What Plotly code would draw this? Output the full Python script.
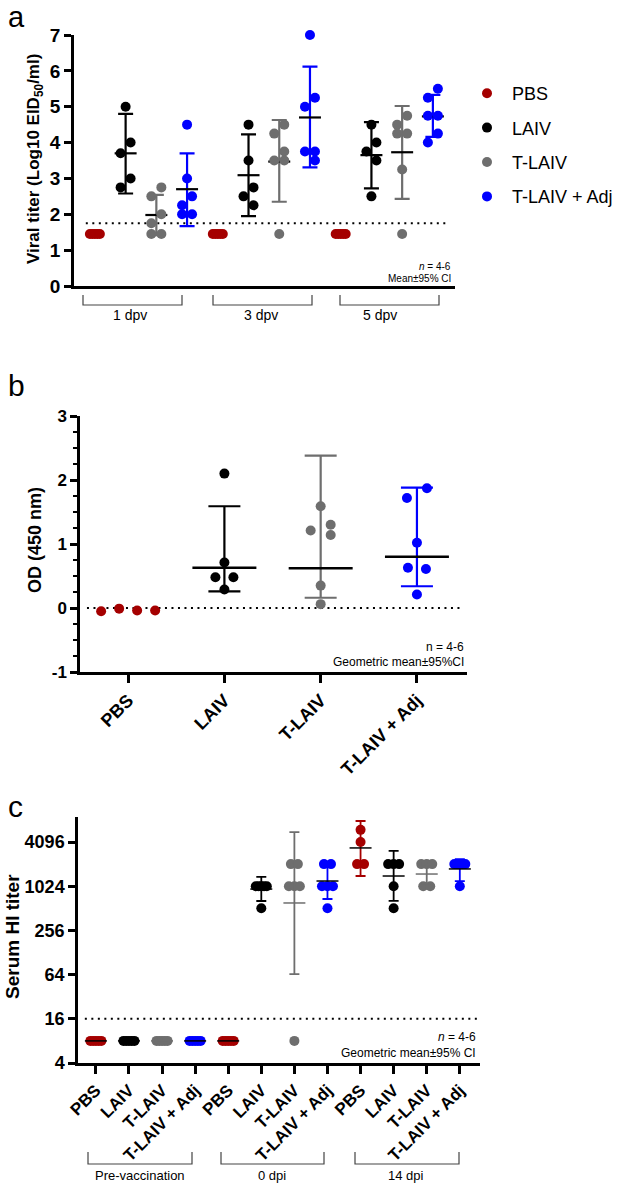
import math
import plotly.graph_objects as go

# ---------------- data ----------------
GROUPS = ["PBS", "LAIV", "T-LAIV", "T-LAIV + Adj"]
COLORS = ["#A50000", "#000000", "#6E6E6E", "#0000FF"]

# panel a: viral titer (Log10 EID50/ml) at 1, 3, 5 dpv
A_TIMES = ["1 dpv", "3 dpv", "5 dpv"]
a_pbs = [[1.45, 1.45, 1.45, 1.45, 1.45], [1.45, 1.45, 1.45, 1.45, 1.45], [1.45, 1.45, 1.45, 1.45, 1.45]]
a_laiv = [[5.0, 4.0, 3.7, 3.0, 2.75], [4.5, 3.5, 2.75, 2.5, 2.25], [4.5, 4.0, 3.75, 3.5, 2.5]]
a_tlaiv = [[2.75, 2.5, 2.0, 1.75, 1.45, 1.45], [4.5, 4.25, 3.75, 3.5, 3.5, 1.45], [4.75, 4.5, 4.25, 4.25, 3.25, 1.45]]
a_adj = [[4.5, 3.0, 2.5, 2.25, 2.0, 2.0], [7.0, 5.25, 5.0, 3.75, 3.75, 3.5], [5.5, 5.25, 4.75, 4.75, 4.25, 4.0]]
a_mean = [[None, None, None], [3.70, 3.09, 3.65], [1.98, 3.47, 3.73], [2.70, 4.70, 4.73]]
a_low = [[None, None, None], [2.58, 1.95, 2.72], [1.42, 2.35, 2.43], [1.67, 3.31, 4.16]]
a_high = [[None, None, None], [4.80, 4.23, 4.57], [2.54, 4.63, 5.02], [3.70, 6.12, 5.33]]
A_LIMIT = 1.75

# panel b: OD (450 nm)
b_pbs = [-0.05, -0.01, -0.04, -0.04]
b_laiv = [2.1, 0.71, 0.48, 0.48, 0.29]
b_tlaiv = [1.59, 1.30, 1.21, 1.14, 0.35, 0.06]
b_adj = [1.87, 1.72, 1.02, 0.63, 0.61, 0.21]
b_mean = [None, 0.63, 0.62, 0.80]
b_low = [None, 0.26, 0.16, 0.34]
b_high = [None, 1.59, 2.38, 1.88]

# panel c: serum HI titer (pre-vaccination, 0 dpi, 14 dpi)
C_TIMES = ["Pre-vaccination", "0 dpi", "14 dpi"]
c_pbs = [[8, 8, 8, 8, 8], [8, 8, 8, 8, 8], [6000, 4096, 2048, 2048]]
c_laiv = [[8, 8, 8, 8, 8], [1024, 1024, 1024, 1024, 1024, 512], [2048, 2048, 2048, 1024, 512]]
c_tlaiv = [[8, 8, 8, 8, 8], [2048, 2048, 1024, 1024, 1024, 8], [2048, 2048, 2048, 1024, 1024]]
c_adj = [[8, 8, 8, 8, 8], [2048, 2048, 1024, 1024, 1024, 512], [2048, 2048, 2048, 2048, 2048, 1024]]
c_mean = [[8, 8, 3400], [8, 936, 1410], [8, 605, 1500], [8, 1205, 1760]]
c_low = [[8, 8, 1410], [8, 644, 648], [8, 65, 1100], [8, 686, 1200]]
c_high = [[8, 8, 7920], [8, 1370, 3100], [8, 5600, 2000], [8, 2100, 2400]]
C_LIMIT = 16
C_TICKS = [4, 16, 64, 256, 1024, 4096]

A_DATA = [a_pbs, a_laiv, a_tlaiv, a_adj]
B_DATA = [b_pbs, b_laiv, b_tlaiv, b_adj]
C_DATA = [c_pbs, c_laiv, c_tlaiv, c_adj]

# ---------------- layout geometry (pixels) ----------------
W, H = 629, 1183
FONT = "Liberation Sans"

A_XPX, A_YPX, A_XR, A_YR = (74, 455), (35, 286), [-0.68, 11.72], [0, 7]
B_XPX, B_YPX, B_XR, B_YR = (80, 467), (416, 672), [-0.5, 3.52], [-1, 3]
C_XPX, C_YPX, C_XR = (78, 480), (817, 1063), [-0.54, 11.61]
C_YR = [math.log10(4), 3.953]


def dom_x(p):
    return [p[0] / W, p[1] / W]


def dom_y(p):
    return [1 - p[1] / H, 1 - p[0] / H]


def swarm(vals, ppy, h, w, maxhalf, T, rowtol=4.0, log=False):
    """GraphPad-like horizontal spreading of points (returns pixel offsets)."""
    n = len(vals)
    py = [ppy * (math.log10(v) if log else v) for v in vals]
    order = sorted(range(n), key=lambda i: (-py[i], i))
    rows = []
    for i in order:
        if rows and abs(py[rows[-1][0]] - py[i]) <= rowtol:
            rows[-1].append(i)
        else:
            rows.append([i])
    chains = []
    for r in rows:
        if chains and py[chains[-1][-1][0]] - py[r[0]] < T:
            chains[-1].append(r)
        else:
            chains.append([r])
    off = [0.0] * n
    for ch in chains:
        sign = 1
        lone = len(ch) == 1
        for r in ch:
            r = sorted(r)
            k = len(r)
            if k == 1:
                off[r[0]] = 0.0 if lone else sign * h
                sign = -sign
            else:
                step = w if (k - 1) * w / 2 <= maxhalf else 2 * maxhalf / (k - 1)
                for j, i in enumerate(r):
                    off[i] = (j - (k - 1) / 2) * step
    return off


fig = go.Figure()

# ---------------- panel a ----------------
ppx_a = (A_XPX[1] - A_XPX[0]) / (A_XR[1] - A_XR[0])
ppy_a = (A_YPX[1] - A_YPX[0]) / (A_YR[1] - A_YR[0])
for gi, g in enumerate(GROUPS):
    xs, ms, lo, hi = [], [], [], []
    for t in range(3):
        if a_mean[gi][t] is not None:
            xs.append(t * 4 + gi)
            ms.append(a_mean[gi][t])
            lo.append(a_mean[gi][t] - a_low[gi][t])
            hi.append(a_high[gi][t] - a_mean[gi][t])
    if xs:
        fig.add_trace(go.Scatter(
            x=xs, y=ms, mode="markers", xaxis="x", yaxis="y", showlegend=False, cliponaxis=False,
            marker=dict(symbol="line-ew", size=15.7, line=dict(color="black", width=2.2)),
            error_y=dict(type="data", symmetric=False, array=hi, arrayminus=lo,
                         color=COLORS[gi], thickness=2.2, width=7.5)))
for gi, g in enumerate(GROUPS):
    xs, ys = [], []
    for t in range(3):
        vals = A_DATA[gi][t]
        offs = swarm(vals, ppy_a, 5, 10, 5, 14)
        xs += [t * 4 + gi + o / ppx_a for o in offs]
        ys += vals
    fig.add_trace(go.Scatter(
        x=xs, y=ys, mode="markers", name=g, legendgroup=g, xaxis="x", yaxis="y",
        cliponaxis=False, marker=dict(size=10, color=COLORS[gi])))

# ---------------- panel b ----------------
ppx_b = (B_XPX[1] - B_XPX[0]) / (B_XR[1] - B_XR[0])
ppy_b = (B_YPX[1] - B_YPX[0]) / (B_YR[1] - B_YR[0])
for gi, g in enumerate(GROUPS):
    if b_mean[gi] is None:
        continue
    fig.add_trace(go.Scatter(
        x=[gi], y=[b_mean[gi]], mode="markers", xaxis="x2", yaxis="y2", showlegend=False,
        cliponaxis=False,
        marker=dict(symbol="line-ew", size=45.7, line=dict(color="black", width=2.4)),
        error_y=dict(type="data", symmetric=False, array=[b_high[gi] - b_mean[gi]],
                     arrayminus=[b_mean[gi] - b_low[gi]], color=COLORS[gi], thickness=2.2, width=16)))
for gi, g in enumerate(GROUPS):
    vals = B_DATA[gi]
    offs = swarm(vals, ppy_b, 10, 18, 30, 12)
    fig.add_trace(go.Scatter(
        x=[gi + o / ppx_b for o in offs], y=vals, mode="markers", xaxis="x2", yaxis="y2",
        showlegend=False, cliponaxis=False, marker=dict(size=10, color=COLORS[gi])))

# ---------------- panel c ----------------
ppx_c = (C_XPX[1] - C_XPX[0]) / (C_XR[1] - C_XR[0])
ppy_c = (C_YPX[1] - C_YPX[0]) / (C_YR[1] - C_YR[0])
for gi, g in enumerate(GROUPS):
    xs, ys = [], []
    for t in range(3):
        vals = C_DATA[gi][t]
        offs = swarm(vals, ppy_c, 5, 7, 5.5, 12, log=True)
        xs += [t * 4 + gi + o / ppx_c for o in offs]
        ys += vals
    fig.add_trace(go.Scatter(
        x=xs, y=ys, mode="markers", xaxis="x3", yaxis="y3", showlegend=False,
        cliponaxis=False, marker=dict(size=10, color=COLORS[gi])))
for gi, g in enumerate(GROUPS):
    xs = [t * 4 + gi for t in range(3)]
    ms = c_mean[gi]
    hi = [c_high[gi][t] - ms[t] for t in range(3)]
    lo = [ms[t] - c_low[gi][t] for t in range(3)]
    mcol = "#6E6E6E" if g == "T-LAIV" else "black"
    fig.add_trace(go.Scatter(
        x=xs, y=ms, mode="markers", xaxis="x3", yaxis="y3", showlegend=False, cliponaxis=False,
        marker=dict(symbol="line-ew", size=15.7, line=dict(color=mcol, width=1.5)),
        error_y=dict(type="data", symmetric=False, array=hi, arrayminus=lo,
                     color=COLORS[gi], thickness=1.8, width=5)))

# ---------------- axes ----------------
base = dict(showgrid=False, zeroline=False, showline=True, linecolor="black", linewidth=2.5,
            ticks="outside", tickcolor="black", tickwidth=2.5, ticklen=7, automargin=False)


def tick_bold(s):
    return dict(family=FONT, size=s, color="black", weight="bold")


fig.update_layout(
    xaxis=dict(base, domain=dom_x(A_XPX), range=A_XR, anchor="y", showticklabels=False, ticks=""),
    yaxis=dict(base, domain=dom_y(A_YPX), range=A_YR, anchor="x", tickvals=list(range(0, 8)),
               tickfont=tick_bold(19)),
    xaxis2=dict(base, domain=dom_x(B_XPX), range=B_XR, anchor="y2", tickvals=[0, 1, 2, 3],
                ticktext=GROUPS, tickangle=-45, tickfont=tick_bold(18), ticklen=8),
    yaxis2=dict(base, domain=dom_y(B_YPX), range=B_YR, anchor="x2", tickvals=[-1, 0, 1, 2, 3],
                ticktext=["-1", "0", "1", "2", "3"], tickfont=tick_bold(17),
                minor=dict(dtick=0.25, ticks="outside", ticklen=4, tickwidth=2, tickcolor="black")),
    xaxis3=dict(base, domain=dom_x(C_XPX), range=C_XR, anchor="y3", tickvals=list(range(12)),
                ticktext=GROUPS * 3, tickangle=-45, tickfont=tick_bold(17), ticklen=8),
    yaxis3=dict(base, domain=dom_y(C_YPX), type="log", range=C_YR, anchor="x3",
                tickvals=C_TICKS, ticktext=[str(v) for v in C_TICKS], tickfont=tick_bold(18)),
)

# ---------------- reference lines ----------------
shapes = [
    dict(type="line", xref="x domain", yref="y", x0=0.031, x1=0.98, y0=A_LIMIT, y1=A_LIMIT,
         layer="below", line=dict(color="black", width=2, dash="2px,4.5px")),
    dict(type="line", xref="x2 domain", yref="y2", x0=0.018, x1=0.982, y0=0, y1=0,
         layer="below", line=dict(color="black", width=2, dash="2px,4.5px")),
    dict(type="line", xref="x3 domain", yref="y3", x0=0.017, x1=0.995, y0=C_LIMIT, y1=C_LIMIT,
         layer="below", line=dict(color="black", width=2, dash="2px,4.5px")),
]


def bracket(x0, x1, yt, yb):
    return dict(type="path", xref="paper", yref="paper",
                path=f"M {x0 / W} {1 - yt / H} L {x0 / W} {1 - yb / H} L {x1 / W} {1 - yb / H} L {x1 / W} {1 - yt / H}",
                line=dict(color="#444444", width=1.2))


annotations = []


def text(x, y, s, size, xanchor="center", weight="normal", angle=0, yanchor="middle"):
    annotations.append(dict(x=x / W, y=1 - y / H, xref="paper", yref="paper", text=s, showarrow=False,
                            xanchor=xanchor, yanchor=yanchor, textangle=angle,
                            font=dict(family=FONT, size=size, color="black", weight=weight)))


A_BR = [(83, 182, 130), (213, 312, 261), (340, 439, 380)]
for (x0, x1, xc), lab in zip(A_BR, A_TIMES):
    shapes.append(bracket(x0, x1, 295, 305))
    text(xc, 315, lab, 14)
C_BR = [(88, 192, 140), (221, 324, 272), (355, 459, 406)]
for (x0, x1, xc), lab in zip(C_BR, C_TIMES):
    shapes.append(bracket(x0, x1, 1152, 1164))
    text(xc, 1175, lab, 13)

# panel letters
text(16, 17, "a", 29)
text(16, 385, "b", 30)
text(15, 806, "c", 30)
# axis titles
text(35, 159, "Viral titer (Log10 EID<sub>50</sub>/ml)", 17, weight="bold", angle=-90)
text(35, 540, "OD (450 nm)", 18, weight="bold", angle=-90)
text(12, 937, "Serum HI titer", 19, weight="bold", angle=-90)
# stats notes
text(453, 266, "<i>n</i> = 4-6", 10, xanchor="right")
text(453, 278, "Mean±95% CI", 10, xanchor="right")
text(466, 647, "n = 4-6", 12, xanchor="right")
text(466, 662, "Geometric mean±95%CI", 12, xanchor="right")
text(478, 1037, "<i>n</i> = 4-6", 12, xanchor="right")
text(478, 1053, "Geometric mean±95% CI", 12, xanchor="right")

fig.update_layout(
    width=W, height=H, autosize=False,
    margin=dict(l=0, r=0, t=0, b=0, pad=0, autoexpand=False),
    paper_bgcolor="white", plot_bgcolor="white",
    shapes=shapes, annotations=annotations,
    showlegend=True,
    legend=dict(x=462 / W, y=1 - 75 / H, xanchor="left", yanchor="top",
                font=dict(family=FONT, size=18, color="black"), itemwidth=40,
                traceorder="grouped", tracegroupgap=8, bgcolor="rgba(0,0,0,0)"),
)

fig.write_html("out.html", config={"displayModeBar": False},
               post_script="document.body.style.margin='0';")
